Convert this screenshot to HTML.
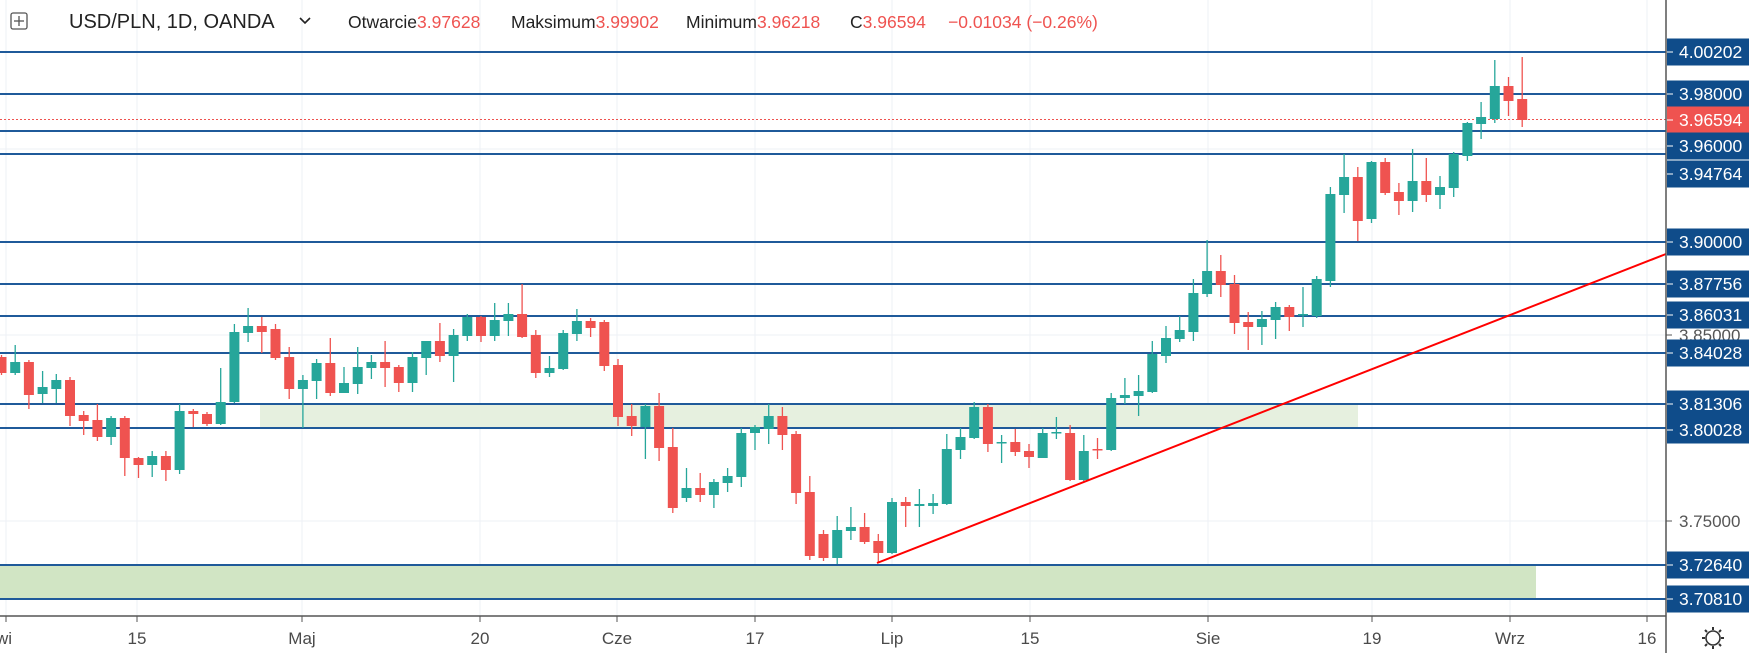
<!DOCTYPE html>
<html><head><meta charset="utf-8"><style>
html,body{margin:0;padding:0;background:#fff;width:1749px;height:653px;overflow:hidden}
svg{display:block;font-family:"Liberation Sans",Arial,sans-serif}
</style></head><body>
<svg id="s" width="1749" height="653" viewBox="0 0 1749 653" xmlns="http://www.w3.org/2000/svg">
<g stroke="#edf1f6" stroke-width="1">
<line x1="6" y1="0" x2="6" y2="616"/><line x1="137" y1="0" x2="137" y2="616"/><line x1="302" y1="0" x2="302" y2="616"/><line x1="480" y1="0" x2="480" y2="616"/><line x1="617" y1="0" x2="617" y2="616"/><line x1="755" y1="0" x2="755" y2="616"/><line x1="892" y1="0" x2="892" y2="616"/><line x1="1030" y1="0" x2="1030" y2="616"/><line x1="1208" y1="0" x2="1208" y2="616"/><line x1="1372" y1="0" x2="1372" y2="616"/><line x1="1510" y1="0" x2="1510" y2="616"/><line x1="1647" y1="0" x2="1647" y2="616"/>
<line x1="0" y1="149" x2="1666" y2="149"/><line x1="0" y1="335" x2="1666" y2="335"/><line x1="0" y1="521" x2="1666" y2="521"/>
</g>
<rect x="260" y="404" width="1098" height="24" fill="#e6f0df"/>
<rect x="0" y="565" width="1536" height="34" fill="#d1e5c4"/>
<g stroke="#1f5a9a" stroke-width="2">
<line x1="0" y1="52" x2="1666" y2="52"/><line x1="0" y1="94" x2="1666" y2="94"/><line x1="0" y1="131" x2="1666" y2="131"/><line x1="0" y1="154" x2="1666" y2="154"/><line x1="0" y1="242" x2="1666" y2="242"/><line x1="0" y1="284" x2="1666" y2="284"/><line x1="0" y1="316" x2="1666" y2="316"/><line x1="0" y1="353" x2="1666" y2="353"/><line x1="0" y1="404" x2="1666" y2="404"/><line x1="0" y1="428" x2="1666" y2="428"/><line x1="0" y1="565" x2="1666" y2="565"/><line x1="0" y1="599" x2="1666" y2="599"/>
</g>
<line x1="0" y1="119.5" x2="1666" y2="119.5" stroke="#ef5350" stroke-width="1" stroke-dasharray="2,2"/>
<g id="c"></g>
<line x1="877" y1="563" x2="1666" y2="254" stroke="#ff0000" stroke-width="2"/>
<!-- axes -->
<line x1="1666" y1="0" x2="1666" y2="653" stroke="#555" stroke-width="1.5"/>
<line x1="0" y1="616" x2="1666" y2="616" stroke="#555" stroke-width="1.5"/>
<g stroke="#555" stroke-width="1">
<line x1="6" y1="616" x2="6" y2="622"/><line x1="137" y1="616" x2="137" y2="622"/><line x1="302" y1="616" x2="302" y2="622"/><line x1="480" y1="616" x2="480" y2="622"/><line x1="617" y1="616" x2="617" y2="622"/><line x1="755" y1="616" x2="755" y2="622"/><line x1="892" y1="616" x2="892" y2="622"/><line x1="1030" y1="616" x2="1030" y2="622"/><line x1="1208" y1="616" x2="1208" y2="622"/><line x1="1372" y1="616" x2="1372" y2="622"/><line x1="1510" y1="616" x2="1510" y2="622"/><line x1="1647" y1="616" x2="1647" y2="622"/>
</g>
<g font-size="17" fill="#4a4a4a" text-anchor="middle">
<text x="4" y="644">wi</text><text x="137" y="644">15</text><text x="302" y="644">Maj</text><text x="480" y="644">20</text><text x="617" y="644">Cze</text><text x="755" y="644">17</text><text x="892" y="644">Lip</text><text x="1030" y="644">15</text><text x="1208" y="644">Sie</text><text x="1372" y="644">19</text><text x="1510" y="644">Wrz</text><text x="1647" y="644">16</text>
</g>
<g transform="translate(1713,638)" fill="none" stroke="#333" stroke-width="1.6"><circle r="7"/><g stroke-width="2"><line x1="0" y1="-11" x2="0" y2="-8"/><line x1="0" y1="8" x2="0" y2="11"/><line x1="-11" y1="0" x2="-8" y2="0"/><line x1="8" y1="0" x2="11" y2="0"/><line x1="-8" y1="-8" x2="-6" y2="-6"/><line x1="6" y1="6" x2="8" y2="8"/><line x1="-8" y1="8" x2="-6" y2="6"/><line x1="6" y1="-6" x2="8" y2="-8"/></g></g>
<g id="ax"></g>
<!-- header -->
<g>
<rect x="11" y="13" width="16" height="16" fill="none" stroke="#555" stroke-width="1.3" rx="2"/>
<line x1="19" y1="16" x2="19" y2="26" stroke="#555" stroke-width="1.3"/><line x1="14" y1="21" x2="24" y2="21" stroke="#555" stroke-width="1.3"/>
<text x="69" y="28" font-size="20" fill="#222">USD/PLN, 1D, OANDA</text>
<path d="M300 18 l5 5 l5 -5" fill="none" stroke="#222" stroke-width="1.6"/>
<text y="28" font-size="17.5" fill="#222"><tspan x="348">Otwarcie</tspan><tspan fill="#ef5350">3.97628</tspan><tspan x="511">Maksimum</tspan><tspan fill="#ef5350">3.99902</tspan><tspan x="686">Minimum</tspan><tspan fill="#ef5350">3.96218</tspan><tspan x="850">C</tspan><tspan fill="#ef5350">3.96594</tspan><tspan x="948" fill="#ef5350">−0.01034 (−0.26%)</tspan></text>
</g>
</svg>
<script>
var d=[[357,373,355,375],[373,362,345,375],[362,395,360,409],[394,387,371,403],[389,380,374,403],[380,416,377,426],[415,421,411,435],[420,437,404,441],[437,418,416,445],[418,458,416,476],[458,465,457,478],[465,456,451,477],[456,470,451,481],[470,411,404,474],[411,414,409,427],[414,424,412,426],[424,402,368,425],[402,332,324,403],[333,326,308,342],[326,332,317,353],[329,358,324,360],[357,389,347,399],[389,380,375,428],[381,363,359,399],[363,393,338,396],[393,383,367,393],[384,367,347,394],[368,362,355,379],[362,368,341,387],[367,383,365,392],[383,357,352,392],[358,341,341,375],[341,356,323,362],[356,335,329,382],[336,317,314,341],[317,336,316,342],[336,320,303,341],[321,314,303,336],[314,337,284,338],[335,373,330,378],[373,368,356,377],[369,333,330,370],[334,321,309,341],[321,328,318,337],[322,366,320,371],[365,417,359,426],[416,426,404,436],[427,406,404,459],[406,448,393,461],[447,508,428,513],[498,488,468,502],[488,495,473,502],[495,482,479,508],[483,476,468,492],[477,433,428,487],[433,427,425,450],[429,416,404,444],[416,435,407,450],[434,493,431,504],[492,556,476,560],[534,558,530,561],[558,530,516,564],[531,527,507,540],[527,542,513,544],[541,553,534,563],[553,502,498,554],[502,506,497,527],[506,504,489,527],[506,503,494,514],[504,449,434,505],[450,437,428,459],[438,407,402,439],[407,444,404,452],[443,442,435,463],[442,452,429,456],[451,457,444,468],[458,433,428,458],[433,432,417,439],[433,480,425,481],[480,451,435,481],[449,450,438,459],[450,398,393,451],[398,395,378,404],[396,391,375,416],[392,354,341,393],[356,338,326,363],[339,330,316,342],[332,293,279,341],[294,271,240,297],[271,285,255,297],[284,323,275,334],[322,327,312,350],[327,319,311,345],[320,307,302,339],[307,317,305,331],[315,314,287,327],[316,279,276,318],[281,194,187,287],[195,177,154,213],[177,221,167,241],[219,162,161,223],[162,193,158,195],[192,201,183,215],[201,181,149,212],[181,195,158,202],[195,187,176,209],[188,154,152,197],[156,123,122,161],[124,117,102,139],[119,86,60,123],[86,101,77,116],[99,120,57,127]];
var ns="http://www.w3.org/2000/svg",g=document.getElementById("c"),h="";
d.forEach(function(c,i){var x=1.5+13.7*i,up=c[1]<c[0],col=up?"#26a69a":"#ef5350";var t=Math.min(c[0],c[1]),b=Math.max(c[0],c[1]);if(b-t<1.5){b=t+1.5}
h+='<line x1="'+x+'" y1="'+c[2]+'" x2="'+x+'" y2="'+c[3]+'" stroke="'+col+'" stroke-width="1.3"/>';
h+='<rect x="'+(x-5)+'" y="'+t+'" width="10" height="'+(b-t)+'" fill="'+col+'"/>';});
g.innerHTML=h;
var L=[["4.00202",52,"#0f4c8a"],["3.98000",94,"#0f4c8a"],["3.96594",120,"#ef5350"],["3.96000",146,"#0f4c8a"],["3.94764",174,"#0f4c8a"],["3.90000",242,"#0f4c8a"],["3.87756",284,"#0f4c8a"],["3.86031",315,"#0f4c8a"],["3.84028",353,"#0f4c8a"],["3.81306",404,"#0f4c8a"],["3.80028",430,"#0f4c8a"],["3.72640",565,"#0f4c8a"],["3.70810",599,"#0f4c8a"]];
var a='<text x="1679" y="341" font-size="17" fill="#555">3.85000</text><line x1="1666" y1="335" x2="1672" y2="335" stroke="#555"/><text x="1679" y="527" font-size="17" fill="#555">3.75000</text><line x1="1666" y1="521" x2="1672" y2="521" stroke="#555"/>';
L.forEach(function(l){a+='<rect x="1667" y="'+(l[1]-13.5)+'" width="82" height="27" fill="'+l[2]+'"/><line x1="1667" y1="'+l[1]+'" x2="1673" y2="'+l[1]+'" stroke="#fff" stroke-width="1"/><text x="1679" y="'+(l[1]+6)+'" font-size="17.5" fill="#fff">'+l[0]+'</text>';});
document.getElementById("ax").innerHTML=a;
</script>
</body></html>
